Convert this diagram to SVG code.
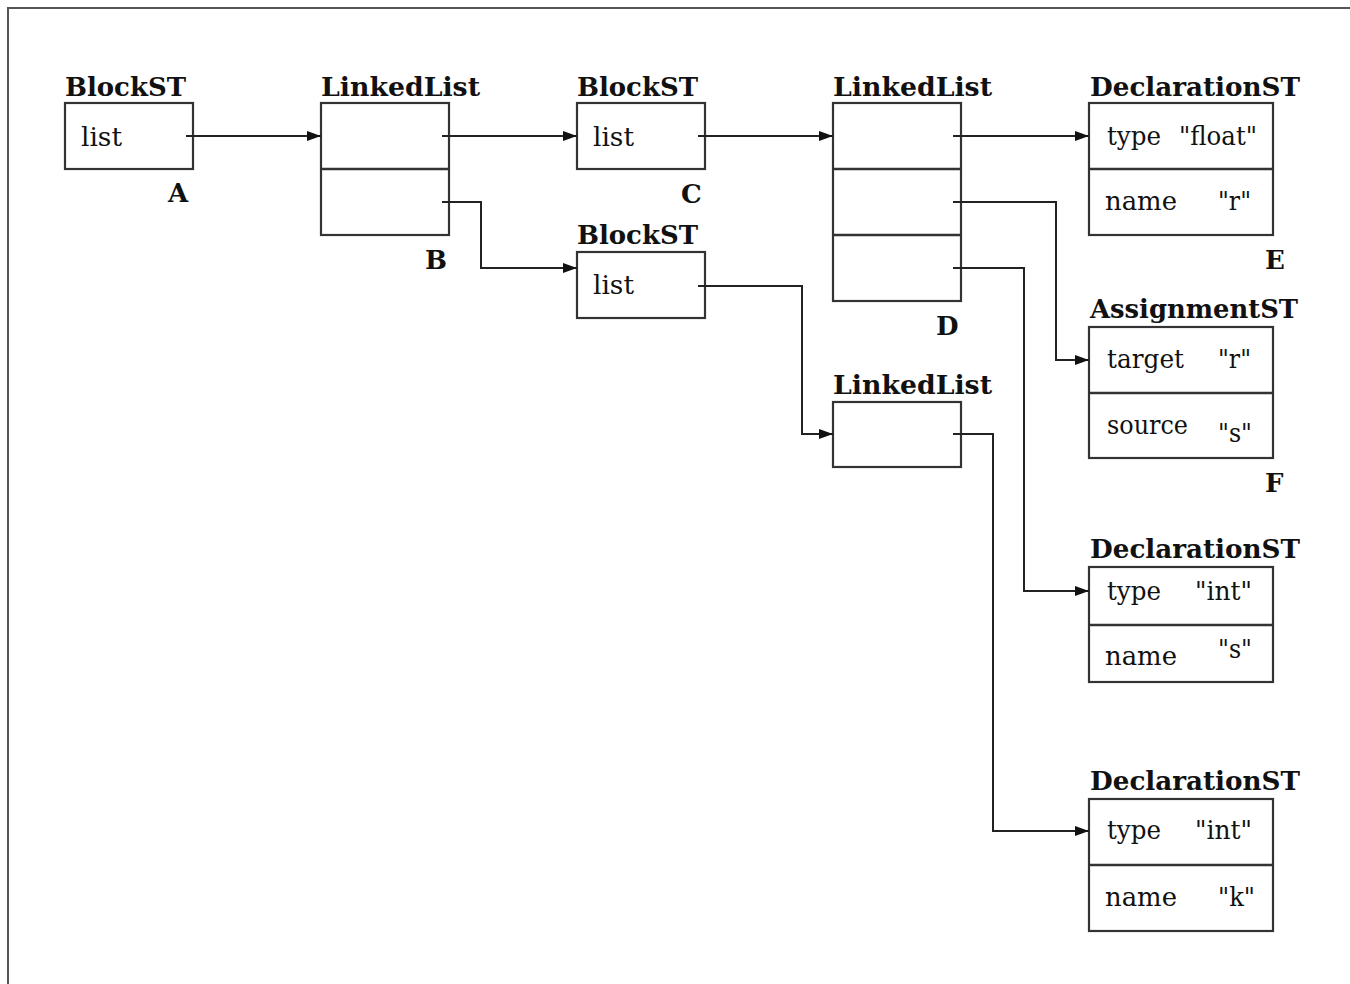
<svg xmlns="http://www.w3.org/2000/svg" width="1350" height="984" viewBox="0 0 1350 984">
<style>
.frame{fill:none;stroke:#555;stroke-width:2}
.box{fill:#fff;stroke:#333;stroke-width:2.2}
.div{stroke:#333;stroke-width:2.6}
.lbl{font-family:"DejaVu Serif","Liberation Serif",serif;font-weight:bold;font-size:26px;fill:#111}
.let{font-family:"DejaVu Serif","Liberation Serif",serif;font-weight:bold;font-size:26px;fill:#111}
.txt{font-family:"DejaVu Serif","Liberation Serif",serif;font-size:26px;fill:#111}
.con{fill:none;stroke:#222;stroke-width:2;marker-end:url(#arr)}
</style>
<defs>
<marker id="arr" viewBox="0 0 14 10" refX="14" refY="5" markerWidth="14" markerHeight="10" markerUnits="userSpaceOnUse" orient="auto">
<path d="M0,0 L14,5 L0,10 Z" fill="#111"/>
</marker>
</defs>
<rect width="1350" height="984" fill="#fff"/>
<path class="frame" d="M8,984 L8,8 L1350,8"/>

<g id="A">
<text class="lbl" x="65" y="96" textLength="121" lengthAdjust="spacingAndGlyphs">BlockST</text>
<rect class="box" x="65" y="103" width="128" height="66"/>
<text class="txt" x="81" y="146" textLength="41" lengthAdjust="spacingAndGlyphs">list</text>
<text class="let" x="168" y="202">A</text>
</g>

<g id="B">
<text class="lbl" x="321" y="96" textLength="159" lengthAdjust="spacingAndGlyphs">LinkedList</text>
<rect class="box" x="321" y="103" width="128" height="132"/>
<line class="div" x1="321" y1="169" x2="449" y2="169"/>
<text class="let" x="425" y="269">B</text>
</g>

<g id="C">
<text class="lbl" x="577" y="96" textLength="121" lengthAdjust="spacingAndGlyphs">BlockST</text>
<rect class="box" x="577" y="103" width="128" height="66"/>
<text class="txt" x="593" y="146" textLength="41" lengthAdjust="spacingAndGlyphs">list</text>
<text class="let" x="681" y="203">C</text>
</g>

<g id="BlockST2">
<text class="lbl" x="577" y="244" textLength="121" lengthAdjust="spacingAndGlyphs">BlockST</text>
<rect class="box" x="577" y="252" width="128" height="66"/>
<text class="txt" x="593" y="294" textLength="41" lengthAdjust="spacingAndGlyphs">list</text>
</g>

<g id="D">
<text class="lbl" x="833" y="96" textLength="159" lengthAdjust="spacingAndGlyphs">LinkedList</text>
<rect class="box" x="833" y="103" width="128" height="198"/>
<line class="div" x1="833" y1="169" x2="961" y2="169"/>
<line class="div" x1="833" y1="235" x2="961" y2="235"/>
<text class="let" x="936" y="335">D</text>
</g>

<g id="LinkedList2">
<text class="lbl" x="833" y="394" textLength="159" lengthAdjust="spacingAndGlyphs">LinkedList</text>
<rect class="box" x="833" y="402" width="128" height="65"/>
</g>

<g id="E">
<text class="lbl" x="1090" y="96" textLength="210" lengthAdjust="spacingAndGlyphs">DeclarationST</text>
<rect class="box" x="1089" y="103" width="184" height="132"/>
<line class="div" x1="1089" y1="169" x2="1273" y2="169"/>
<text class="txt" x="1107" y="145" textLength="54" lengthAdjust="spacingAndGlyphs">type</text>
<text class="txt" x="1179" y="145" textLength="78" lengthAdjust="spacingAndGlyphs">"float"</text>
<text class="txt" x="1105" y="210" textLength="72" lengthAdjust="spacingAndGlyphs">name</text>
<text class="txt" x="1218" y="210" textLength="33" lengthAdjust="spacingAndGlyphs">"r"</text>
<text class="let" x="1265" y="269">E</text>
</g>

<g id="F">
<text class="lbl" x="1090" y="318" textLength="208" lengthAdjust="spacingAndGlyphs">AssignmentST</text>
<rect class="box" x="1089" y="327" width="184" height="131"/>
<line class="div" x1="1089" y1="393" x2="1273" y2="393"/>
<text class="txt" x="1107" y="368" textLength="77" lengthAdjust="spacingAndGlyphs">target</text>
<text class="txt" x="1218" y="368" textLength="33" lengthAdjust="spacingAndGlyphs">"r"</text>
<text class="txt" x="1107" y="434" textLength="81" lengthAdjust="spacingAndGlyphs">source</text>
<text class="txt" x="1218" y="442" textLength="34" lengthAdjust="spacingAndGlyphs">"s"</text>
<text class="let" x="1265" y="492">F</text>
</g>

<g id="Decl3">
<text class="lbl" x="1090" y="558" textLength="210" lengthAdjust="spacingAndGlyphs">DeclarationST</text>
<rect class="box" x="1089" y="567" width="184" height="115"/>
<line class="div" x1="1089" y1="625" x2="1273" y2="625"/>
<text class="txt" x="1107" y="600" textLength="54" lengthAdjust="spacingAndGlyphs">type</text>
<text class="txt" x="1195" y="600" textLength="57" lengthAdjust="spacingAndGlyphs">"int"</text>
<text class="txt" x="1105" y="665" textLength="72" lengthAdjust="spacingAndGlyphs">name</text>
<text class="txt" x="1218" y="658" textLength="34" lengthAdjust="spacingAndGlyphs">"s"</text>
</g>

<g id="Decl4">
<text class="lbl" x="1090" y="790" textLength="210" lengthAdjust="spacingAndGlyphs">DeclarationST</text>
<rect class="box" x="1089" y="799" width="184" height="132"/>
<line class="div" x1="1089" y1="865" x2="1273" y2="865"/>
<text class="txt" x="1107" y="839" textLength="54" lengthAdjust="spacingAndGlyphs">type</text>
<text class="txt" x="1195" y="839" textLength="57" lengthAdjust="spacingAndGlyphs">"int"</text>
<text class="txt" x="1105" y="906" textLength="72" lengthAdjust="spacingAndGlyphs">name</text>
<text class="txt" x="1218" y="906" textLength="37" lengthAdjust="spacingAndGlyphs">"k"</text>
</g>

<g id="connectors">
<path class="con" d="M186,136 L321,136"/>
<path class="con" d="M442,136 L577,136"/>
<path class="con" d="M442,202 L481,202 L481,268 L577,268"/>
<path class="con" d="M698,136 L833,136"/>
<path class="con" d="M698,286 L802,286 L802,434 L833,434"/>
<path class="con" d="M953,136 L1089,136"/>
<path class="con" d="M953,202 L1056,202 L1056,360 L1089,360"/>
<path class="con" d="M953,268 L1024,268 L1024,591 L1089,591"/>
<path class="con" d="M953,434 L993,434 L993,831 L1089,831"/>
</g>
</svg>
